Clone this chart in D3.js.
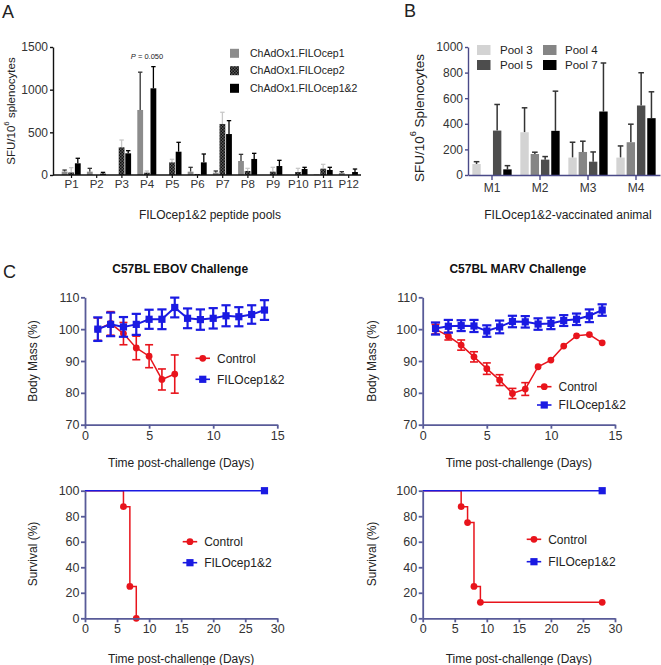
<!DOCTYPE html>
<html><head><meta charset="utf-8">
<script src="https://cdn.jsdelivr.net/npm/d3@7"></script>
<style>
body{margin:0;background:#fff}
svg{display:block}
text{font-family:"Liberation Sans",Arial,Helvetica,sans-serif}
</style>
</head><body>
<svg id="c" width="661" height="665"></svg>
<script>
// ---------- Panel A data ----------
const poolLabels = ["P1","P2","P3","P4","P5","P6","P7","P8","P9","P10","P11","P12"];
const seriesA = ["ChAdOx1.FILOcep1","ChAdOx1.FILOcep2","ChAdOx1.FILOcep1&2"];
const fcep1    = [40, 39, 0, 762, 0, 39, 27, 164, 0, 0, 8, 23];
const fcep1Err = [18, 39, 0, 443, 0, 51, 20, 78, 0, 0, 0, 16];
const fcep2    = [30, 0, 324, 27, 148, 12, 598, 47, 39, 35, 74, 0];
const fcep2Err = [56, 0, 86, 20, 36, 0, 137, 31, 51, 43, 51, 0];
const fcep12    = [137, 16, 254, 1016, 273, 148, 480, 188, 105, 70, 59, 35];
const fcep12Err = [59, 15, 31, 254, 110, 98, 157, 66, 67, 20, 31, 35];
const ticksA = [0, 500, 1000, 1500];

// ---------- Panel B data ----------
const animals = ["M1","M2","M3","M4"];
const seriesB = ["Pool 3","Pool 4","Pool 5","Pool 7"];
const pool3 = [86, 334, 136, 136];   const pool3Err = [18, 191, 120, 91];
const pool4 = [0, 164, 180, 256];    const pool4Err = [0, 14, 84, 141];
const pool5 = [347, 120, 104, 543];  const pool5Err = [204, 24, 76, 256];
const pool7 = [44, 345, 496, 444];   const pool7Err = [29, 310, 379, 206];
const ticksB = [0, 200, 400, 600, 800, 1000];

// ---------- Panel C data ----------
const days = [1,2,3,4,5,6,7,8,9,10,11,12,13,14];
const ebovCtrl    = [100, 101.8, 98.6, 94.1, 91.5, 84.2, 85.9];
const ebovCtrlErr = [3.5, 3.7, 3.5, 3.7, 3.6, 3.3, 6];
const ebovVac     = [100, 101.5, 100.7, 101.5, 103.1, 103.1, 106.8, 103.4, 103, 103.4, 104.2, 103.9, 104.6, 106];
const ebovVacErr  = [3.7, 3.7, 3.1, 3.3, 3, 3.1, 3.1, 3.1, 3.2, 3.2, 3.3, 3, 2.9, 3.1];
const marvCtrl    = [100, 97.8, 95, 91.3, 87.6, 84, 79.8, 81.2, 88.2, 90.3, 94.7, 97.9, 98.3, 95.7];
const marvCtrlErr = [1.5, 1.2, 1.6, 1.6, 1.8, 1.7, 1.6, 2, 0, 0, 0, 0, 0, 0];
const marvVac     = [100.2, 100.9, 101.1, 101, 99.4, 100.7, 102.4, 102.3, 101.6, 101.8, 102.7, 103.1, 104.2, 106];
const marvVacErr  = [1.9, 2, 1.7, 1.9, 1.8, 2, 1.8, 1.8, 1.8, 1.8, 1.7, 1.8, 2, 1.8];
const massTicks = [70, 80, 90, 100, 110];
const massDayTicks = [0, 5, 10, 15];

const ebovSurvDays = [0, 6, 7, 8];
const ebovSurvCtrl = [100, 87.5, 25, 0];
const marvSurvDays = [0, 6, 7, 8, 9, 28];
const marvSurvCtrl = [100, 87.5, 75, 25, 12.5, 12.5];
const vacSurvDays = [0, 28];
const vacSurv = [100, 100];
const survTicks = [0, 20, 40, 60, 80, 100];
const survDayTicks = [0, 5, 10, 15, 20, 25, 30];
const legendC = ["Control", "FILOcep1&2"];

// ---------- drawing ----------
const svg = d3.select("#c");
const RED = "#e8141c", BLUE = "#1a1ae2", AX = "#585b98", TXT = "#333";
const fmt = d3.format("d");

const defs = svg.append("defs");
const pat = defs.append("pattern").attr("id","chk").attr("patternUnits","userSpaceOnUse")
  .attr("width",3).attr("height",3);
pat.append("rect").attr("width",3).attr("height",3).attr("fill","#5a5a5a");
pat.append("rect").attr("width",1.5).attr("height",1.5).attr("fill","#111");
pat.append("rect").attr("x",1.5).attr("y",1.5).attr("width",1.5).attr("height",1.5).attr("fill","#111");

function styleAxis(g, color, w, fs){
  g.selectAll("path.domain").attr("stroke", color).attr("stroke-width", w);
  g.selectAll(".tick line").attr("stroke", color).attr("stroke-width", w);
  g.selectAll(".tick text").attr("fill", TXT).style("font-size", fs + "px")
    .style("font-family", '"Liberation Sans",Arial,sans-serif');
}
function rotTitle(x, y, fs, parts){
  const t = svg.append("text").attr("transform", `translate(${x},${y}) rotate(-90)`)
    .attr("text-anchor","middle").attr("dominant-baseline","central")
    .attr("fill","#222").style("font-size", fs + "px");
  parts.forEach(p => {
    const s = t.append("tspan").text(p.t);
    if (p.sup) s.style("font-size", (fs*0.68)+"px").attr("dy", -fs*0.4);
    if (p.after) s.attr("dy", fs*0.4);
  });
  return t;
}
function label(x, y, txt, fs, opts={}){
  return svg.append("text").attr("x",x).attr("y",y).text(txt)
    .attr("text-anchor", opts.anchor || "start")
    .attr("fill", opts.fill || "#222")
    .style("font-size", fs+"px").style("font-weight", opts.bold ? "bold" : null);
}

// Panel letters
label(2, 18, "A", 18, {fill:"#222"});
label(404, 17, "B", 18, {fill:"#222"});
label(3, 278, "C", 18, {fill:"#222"});

// ===== Panel A =====
(function(){
  const x = d3.scaleBand().domain(poolLabels).range([58.9, 361.3]);
  const y = d3.scaleLinear().domain([0,1500]).range([175, 47]);
  const bw = 5.8, off = [-9.8, -3.2, 3.4];
  const vals = [fcep1, fcep2, fcep12], errs = [fcep1Err, fcep2Err, fcep12Err];
  const fills = ["#8c8c8c", "url(#chk)", "#000"];
  const errCol = ["#333", "#c8c8c8", "#000"];
  vals.forEach((arr, si) => {
    const g = svg.append("g");
    poolLabels.forEach((p, i) => {
      const cx = x(p) + x.bandwidth()/2 + off[si];
      const v = arr[i];
      if (v <= 0) return;
      const e = errs[si][i];
      if (e > 0) {
        g.append("line").attr("x1", cx+bw/2).attr("x2", cx+bw/2)
          .attr("y1", y(v)).attr("y2", y(v+e)).attr("stroke", errCol[si]).attr("stroke-width",1.3);
        g.append("line").attr("x1", cx+bw/2-2.2).attr("x2", cx+bw/2+2.2)
          .attr("y1", y(v+e)).attr("y2", y(v+e)).attr("stroke", errCol[si]).attr("stroke-width",1.3);
      }
      g.append("rect").attr("x", cx).attr("y", y(v)).attr("width", bw)
        .attr("height", y(0)-y(v)).attr("fill", fills[si]);
    });
  });
  const ya = svg.append("g").attr("transform","translate(53,0)")
    .call(d3.axisLeft(y).tickValues(ticksA).tickFormat(fmt).tickSize(3).tickPadding(2).tickSizeOuter(0));
  styleAxis(ya, "#111", 1.4, 12);
  const xa = svg.append("g").attr("transform","translate(0,175)")
    .call(d3.axisBottom(x).tickSize(3).tickPadding(2));
  xa.select("path.domain").remove();
  styleAxis(xa, "#111", 1.2, 11.5);
  svg.append("line").attr("x1",53).attr("x2",361).attr("y1",175).attr("y2",175)
    .attr("stroke","#111").attr("stroke-width",1.4);

  rotTitle(11, 111, 11.5, [{t:"SFU/10"},{t:"6",sup:true},{t:" splenocytes",after:true}]);
  label(210, 219, "FILOcep1&2 peptide pools", 12, {anchor:"middle"});

  const pt = svg.append("text").attr("x",147).attr("y",58.5).attr("text-anchor","middle")
    .attr("fill","#222").style("font-size","7.5px");
  pt.append("tspan").text("P").style("font-style","italic");
  pt.append("tspan").text(" = 0.050");

  const ly = [53.3, 70.7, 88.3];
  seriesA.forEach((s, i) => {
    svg.append("rect").attr("x",230).attr("y",ly[i]-4.5).attr("width",9).attr("height",9)
      .attr("fill", fills[i]);
    label(250, ly[i]+3.7, s, 10.5);
  });
})();

// ===== Panel B =====
(function(){
  const x = d3.scaleBand().domain(animals).range([468, 660]);
  const y = d3.scaleLinear().domain([0,1000]).range([175, 47]);
  const bw = 8.4, step = 10.3;
  const vals = [pool3, pool4, pool5, pool7], errs = [pool3Err, pool4Err, pool5Err, pool7Err];
  const fills = ["#d3d3d3", "#858585", "#4d4d4d", "#000"];
  vals.forEach((arr, si) => {
    const g = svg.append("g");
    animals.forEach((a, i) => {
      const cx = x(a) + x.bandwidth()/2 - 2*step + 0.95 + si*step;
      const v = arr[i];
      if (v <= 0) return;
      const e = errs[si][i];
      if (e > 0) {
        g.append("line").attr("x1", cx+bw/2).attr("x2", cx+bw/2)
          .attr("y1", y(v)).attr("y2", y(v+e)).attr("stroke", "#333").attr("stroke-width",1.5);
        g.append("line").attr("x1", cx+bw/2-2.8).attr("x2", cx+bw/2+2.8)
          .attr("y1", y(v+e)).attr("y2", y(v+e)).attr("stroke", "#333").attr("stroke-width",1.5);
      }
      g.append("rect").attr("x", cx).attr("y", y(v)).attr("width", bw)
        .attr("height", y(0)-y(v)).attr("fill", fills[si]);
    });
  });
  const BAX = "#4a4a88";
  const ya = svg.append("g").attr("transform","translate(468,0)")
    .call(d3.axisLeft(y).tickValues(ticksB).tickFormat(fmt).tickSize(3).tickPadding(2).tickSizeOuter(0));
  styleAxis(ya, BAX, 1.4, 12);
  const xa = svg.append("g").attr("transform","translate(0,175)")
    .call(d3.axisBottom(x).tickSize(5).tickPadding(3).tickSizeOuter(0));
  styleAxis(xa, BAX, 1.4, 12);

  rotTitle(418.5, 118, 13.5, [{t:"SFU/10"},{t:"6",sup:true},{t:" Splenocytes",after:true}]);
  label(568, 219, "FILOcep1&2-vaccinated animal", 12, {anchor:"middle"});

  const lx = [477, 543, 477, 543], lyy = [50, 50, 65, 65], tx = [500, 565, 500, 565];
  seriesB.forEach((s, i) => {
    svg.append("rect").attr("x",lx[i]).attr("y",lyy[i]-5).attr("width",13.5).attr("height",10)
      .attr("fill", fills[i]);
    label(tx[i], lyy[i]+4.2, s, 11.5);
  });
})();

// ===== Panel C helpers =====
function marker(g, kind, cx, cy, color){
  if (kind === "circle") g.append("circle").attr("cx",cx).attr("cy",cy).attr("r",3.4).attr("fill",color);
  else g.append("rect").attr("x",cx-3.6).attr("y",cy-3.6).attr("width",7.2).attr("height",7.2).attr("fill",color);
}
function legendBlock(lx, ys){
  const g = svg.append("g");
  [[RED,"circle"],[BLUE,"square"]].forEach((d, i) => {
    g.append("line").attr("x1",lx).attr("x2",lx+14.5).attr("y1",ys[i]).attr("y2",ys[i])
      .attr("stroke", d[0]).attr("stroke-width", 1.6);
    marker(g, d[1], lx+7.25, ys[i], d[0]);
    label(lx+21.5, ys[i]+4.3, legendC[i], 12);
  });
}

function massChart(xr, ctrl, ctrlErr, vac, vacErr, title, ytX, leg){
  const x = d3.scaleLinear().domain([0,15]).range(xr);
  const y = d3.scaleLinear().domain([70,110]).range([424.7, 297.3]);
  const series = [
    {v:ctrl, e:ctrlErr, c:RED, k:"circle", lw:1.5, ew:1.6, cap:4},
    {v:vac, e:vacErr, c:BLUE, k:"square", lw:2, ew:2.2, cap:4.6}
  ];
  series.forEach(s => {
    const g = svg.append("g");
    const ds = days.slice(0, s.v.length);
    g.append("path").datum(ds.map((d,i)=>[d, s.v[i]]))
      .attr("d", d3.line().x(d=>x(d[0])).y(d=>y(d[1])))
      .attr("fill","none").attr("stroke", s.c).attr("stroke-width", s.lw);
    ds.forEach((d,i) => {
      const e = s.e[i];
      if (e > 0) {
        const cx = x(d), t = y(s.v[i]+e), b = y(s.v[i]-e);
        g.append("line").attr("x1",cx).attr("x2",cx).attr("y1",t).attr("y2",b)
          .attr("stroke", s.c).attr("stroke-width", s.ew);
        [t,b].forEach(yy => g.append("line").attr("x1",cx-s.cap).attr("x2",cx+s.cap)
          .attr("y1",yy).attr("y2",yy).attr("stroke", s.c).attr("stroke-width", s.ew));
      }
      marker(g, s.k, x(d), y(s.v[i]), s.c);
    });
  });
  const ya = svg.append("g").attr("transform",`translate(${xr[0]},0)`)
    .call(d3.axisLeft(y).tickValues(massTicks).tickSize(4).tickPadding(1.5).tickSizeOuter(0));
  styleAxis(ya, AX, 1.8, 12.5);
  const xa = svg.append("g").attr("transform","translate(0,424.7)")
    .call(d3.axisBottom(x).tickValues(massDayTicks).tickSize(4).tickPadding(2).tickSizeOuter(0));
  styleAxis(xa, AX, 1.8, 12.5);
  const mid = (xr[0]+xr[1])/2;
  label(mid - 1, 273, title, 12, {anchor:"middle", bold:true, fill:"#111"});
  rotTitle(ytX, 361, 12, [{t:"Body Mass  (%)"}]);
  label(mid, 467, "Time post-challenge (Days)", 12, {anchor:"middle"});
  legendBlock(leg[0], [leg[1], leg[2]]);
}

function survChart(xr, cDays, cVals, ytX, leg){
  const x = d3.scaleLinear().domain([0,30]).range(xr);
  const y = d3.scaleLinear().domain([0,100]).range([618.3, 490.7]);
  const line = d3.line().x(d=>x(d[0])).y(d=>y(d[1])).curve(d3.curveStepAfter);
  const gc = svg.append("g");
  gc.append("path").datum(cDays.map((d,i)=>[d, cVals[i]])).attr("d", line)
    .attr("fill","none").attr("stroke", RED).attr("stroke-width", 1.5);
  cDays.forEach((d,i) => { if (d > 0) marker(gc, "circle", x(d), y(cVals[i]), RED); });
  const gv = svg.append("g");
  gv.append("path").datum(vacSurvDays.map((d,i)=>[d, vacSurv[i]])).attr("d", line)
    .attr("fill","none").attr("stroke", BLUE).attr("stroke-width", 1.5);
  vacSurvDays.forEach((d,i) => { if (d > 0) marker(gv, "square", x(d), y(vacSurv[i]), BLUE); });

  const ya = svg.append("g").attr("transform",`translate(${xr[0]},0)`)
    .call(d3.axisLeft(y).tickValues(survTicks).tickSize(4).tickPadding(1.5).tickSizeOuter(0));
  styleAxis(ya, AX, 1.8, 12.5);
  const xa = svg.append("g").attr("transform","translate(0,618.3)")
    .call(d3.axisBottom(x).tickValues(survDayTicks).tickSize(4).tickPadding(2).tickSizeOuter(0));
  styleAxis(xa, AX, 1.8, 12.5);
  const mid = (xr[0]+xr[1])/2;
  rotTitle(ytX, 554, 12, [{t:"Survival (%)"}]);
  label(mid, 662.5, "Time post-challenge (Days)", 12, {anchor:"middle"});
  legendBlock(leg[0], [leg[1], leg[2]]);
}

massChart([85, 277.3], ebovCtrl, ebovCtrlErr, ebovVac, ebovVacErr, "C57BL EBOV Challenge", 33, [195.5, 358.3, 379.3]);
massChart([422.7, 615], marvCtrl, marvCtrlErr, marvVac, marvVacErr, "C57BL MARV Challenge", 371.7, [537, 386.7, 405]);
survChart([85, 277.3], ebovSurvDays, ebovSurvCtrl, 33, [182.7, 541.7, 562.7]);
survChart([422.7, 615], marvSurvDays, marvSurvCtrl, 371.7, [526.7, 539.3, 561.7]);
</script>
</body></html>
